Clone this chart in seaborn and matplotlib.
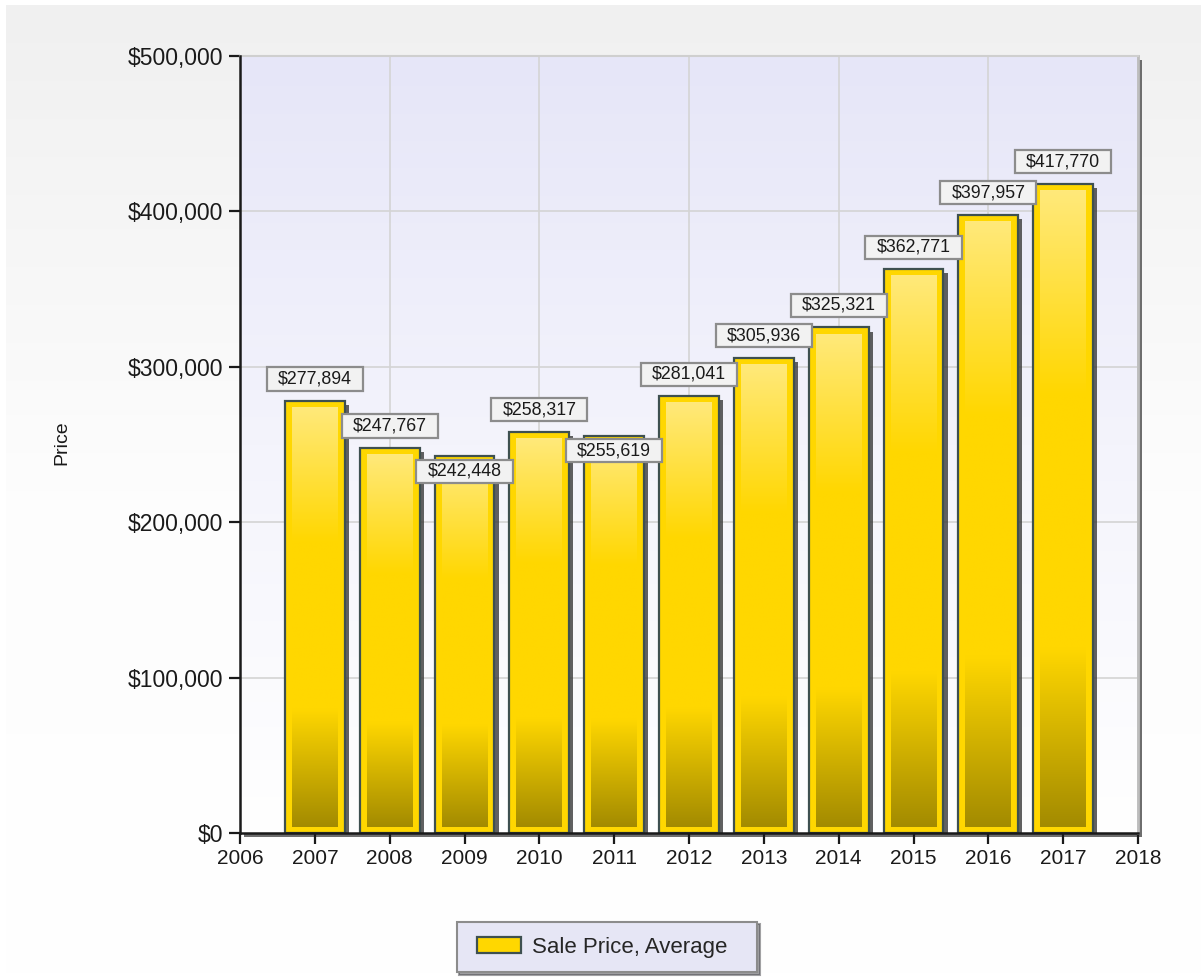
import numpy as np
import pandas as pd
import matplotlib
matplotlib.use("Agg")
import matplotlib.pyplot as plt
import seaborn as sns
from matplotlib.colors import LinearSegmentedColormap
from matplotlib.patches import Patch, Rectangle
from matplotlib.path import Path
from matplotlib import patheffects as pe
from matplotlib.ticker import FuncFormatter, MultipleLocator

# ---- data ----
years = [2007, 2008, 2009, 2010, 2011, 2012, 2013, 2014, 2015, 2016, 2017]
prices = [277894, 247767, 242448, 258317, 255619, 281041, 305936, 325321, 362771, 397957, 417770]
series_name = "Sale Price, Average"
y_label = "Price"

df = pd.DataFrame({"Year": years, "Price": prices})

sns.set_style("white")
plt.rcParams["font.family"] = ["Liberation Sans", "DejaVu Sans"]

W, H = 1201, 977
fig = plt.figure(figsize=(W / 100, H / 100), dpi=100)
fig.patch.set_facecolor("white")

# figure background gradient (with thin white margin at left/top)
bg = fig.add_axes([6 / W, 0, 1 - 6 / W, 1 - 5 / H], zorder=-20)
grad = np.linspace(0, 1, 256).reshape(-1, 1)
bg_cmap = LinearSegmentedColormap.from_list("bg", ["#ffffff", "#fdfdfd", "#f0f0f0"])
bg.imshow(grad, cmap=bg_cmap, aspect="auto", origin="lower", extent=(0, 1, 0, 1))
bg.set_xlim(0, 1)
bg.set_ylim(0, 1)
bg.set_axis_off()

# plot area geometry (pixels)
L, R, T, B = 240, 1138, 56, 833
# plot-area drop shadow
bgW, bgH = W - 6, H - 5
bg.add_patch(Rectangle(((L + 4 - 6) / bgW, (H - B - 4) / bgH), (R - L) / bgW, (B - T) / bgH,
                       transform=bg.transAxes, facecolor="#6e6e6e", edgecolor="none", zorder=2))

ax = fig.add_axes([L / W, 1 - B / H, (R - L) / W, (B - T) / H])
ax.set_facecolor("none")

sns.barplot(data=df, x="Year", y="Price", native_scale=True, width=0.8,
            color="#FFD700", saturation=1, edgecolor="#3e5050", linewidth=1.6,
            errorbar=None, ax=ax, zorder=3)

ax.set_xlim(2006, 2018)
ax.set_ylim(0, 500000)

# axes background gradient
ax_cmap = LinearSegmentedColormap.from_list("axbg", ["#ffffff", "#f4f4fc", "#e6e6f8"])
ax.imshow(grad, cmap=ax_cmap, aspect="auto", origin="lower",
          extent=(0, 1, 0, 1), transform=ax.transAxes, zorder=-5)

# gridlines
for yv in range(100000, 500001, 100000):
    ax.axhline(yv, color="#d4d4d4", lw=1.2, zorder=1)
for xv in range(2008, 2019, 2):
    ax.axvline(xv, color="#d4d4d4", lw=1.2, zorder=1)

# bar gradient fills + shadows
bar_cmap = LinearSegmentedColormap.from_list(
    "bar", [(0.0, "#a38b00"), (0.28, "#ffd700"), (0.68, "#ffd700"), (1.0, "#ffe97a")])
px_x = (R - L) / 12.0          # pixels per year
px_y = (B - T) / 500000.0      # pixels per unit
inset_px = 7
for p in list(ax.patches):
    p.set_path_effects([pe.SimplePatchShadow(offset=(3, -3), shadow_rgbFace="#3a3a3a", alpha=0.8),
                        pe.Normal()])
    x0, w, h = p.get_x(), p.get_width(), p.get_height()
    dx = inset_px / px_x
    dy = inset_px / px_y
    ax.imshow(grad, cmap=bar_cmap, aspect="auto", origin="lower",
              extent=(x0 + dx, x0 + w - dx, dy * 0.8, h - dy), zorder=4, interpolation="bilinear")
ax.set_xlim(2006, 2018)
ax.set_ylim(0, 500000)


def wide_box(x0, y0, width, height, mutation_size):
    padx = 0.62 * mutation_size
    pady = 0.18 * mutation_size
    xa, xb = x0 - padx, x0 + width + padx
    ya, yb = y0 - pady, y0 + height + pady
    return Path([(xa, ya), (xb, ya), (xb, yb), (xa, yb), (xa, ya)], closed=True)


# value labels with simple collision avoidance
prev_center = None
for yr, val in zip(years, prices):
    top_px = val * px_y
    cand = top_px + 22
    if prev_center is not None and abs(cand - prev_center) < 26:
        off = -15
    else:
        off = 22
    prev_center = top_px + off
    ax.annotate(f"${val:,.0f}", xy=(yr, val), xytext=(0, off), textcoords="offset pixels",
                ha="center", va="center", fontsize=12.8, color="#1a1a1a", zorder=6,
                bbox=dict(boxstyle=wide_box, facecolor="#f2f2f2", edgecolor="#8c8c8c", lw=1.6))

# axes styling
ax.xaxis.set_major_locator(MultipleLocator(1))
ax.yaxis.set_major_locator(MultipleLocator(100000))
ax.yaxis.set_major_formatter(FuncFormatter(lambda v, _: f"${v:,.0f}"))
ax.tick_params(axis="both", which="major", direction="out", length=8, width=1.6,
               color="#1a1a1a", labelsize=15, labelcolor="#1a1a1a", left=True, bottom=True)
ax.tick_params(axis="y", labelsize=16.5, pad=4)
ax.set_xlabel("")
ax.set_ylabel("")
for s in ["left", "bottom"]:
    ax.spines[s].set_color("#1a1a1a")
    ax.spines[s].set_linewidth(1.8)
    ax.spines[s].set_zorder(7)
ax.spines["top"].set_color("#cfcfcf")
ax.spines["top"].set_linewidth(1.5)
ax.spines["right"].set_color("#bdbdbd")
ax.spines["right"].set_linewidth(2.0)

fig.text(62 / W, 1 - 443 / H, y_label, rotation=90, fontsize=14, color="#1a1a1a",
         ha="center", va="center")

handle = Patch(facecolor="#FFD700", edgecolor="#3e5050", linewidth=1.6)
leg = fig.legend([handle], [series_name], loc="center", bbox_to_anchor=(602 / W, 1 - 947 / H),
                 fontsize=16, frameon=True, fancybox=False, shadow=True,
                 handlelength=2.0, handleheight=0.75, borderpad=0.45, handletextpad=0.5,
                 borderaxespad=0)


def legend_box(x0, y0, width, height, mutation_size):
    padl = 0.45 * mutation_size
    padr = 0.9 * mutation_size
    pady = 0.22 * mutation_size
    xa, xb = x0 - padl, x0 + width + padr
    ya, yb = y0 - pady, y0 + height + pady
    return Path([(xa, ya), (xb, ya), (xb, yb), (xa, yb), (xa, ya)], closed=True)


fr = leg.get_frame()
fr.set_boxstyle(legend_box)
fr.set_facecolor("#e6e6f5")
fr.set_edgecolor("#8c8c8c")
fr.set_linewidth(1.5)
fr.set_alpha(1)

fig.savefig("out.png", dpi=100)
